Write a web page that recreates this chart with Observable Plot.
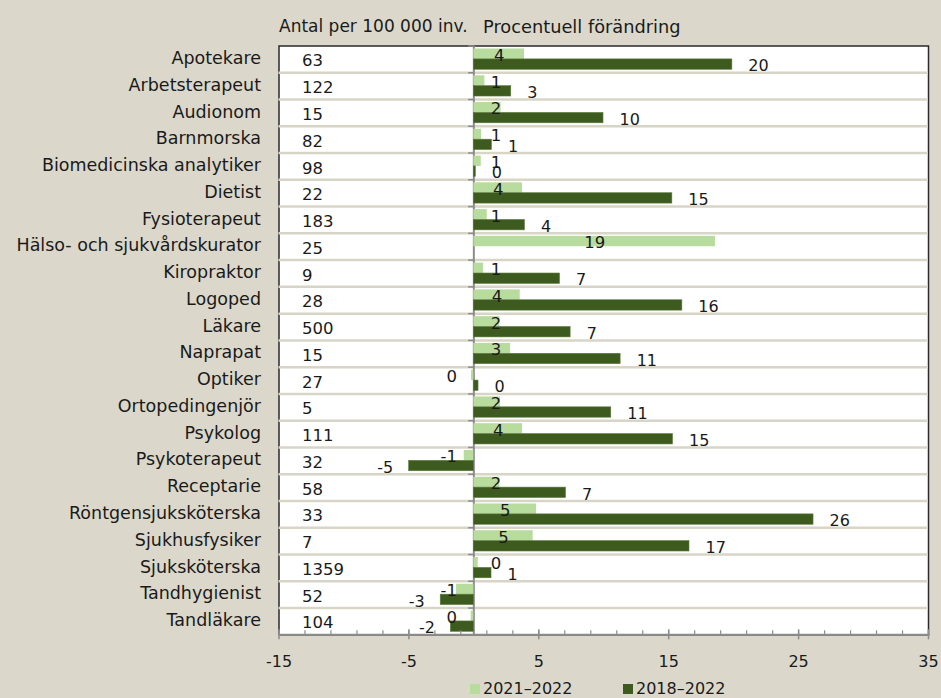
<!DOCTYPE html>
<html>
<head>
<meta charset="utf-8">
<script src="https://cdn.jsdelivr.net/npm/d3@7"></script>
<script src="https://cdn.jsdelivr.net/npm/@observablehq/plot@0.6"></script>
<style>
  html, body { margin: 0; padding: 0; }
  body { width: 941px; height: 698px; overflow: hidden; background: #dbd8cb; font-family: "DejaVu Sans", sans-serif; color: #1a1a1a; position: relative; }
  #chart { position: absolute; left: 0; top: 0; }
  .hdr { position: absolute; font-size: 17px; line-height: 17px; white-space: nowrap; top: 18px; }
  .leg { position: absolute; top: 680px; font-size: 16px; line-height: 18px; white-space: nowrap; display: flex; align-items: center; }
  .sw { display: inline-block; width: 10px; height: 10px; margin-right: 3px; }
</style>
</head>
<body>
<div class="hdr" style="left:279px">Antal per 100 000 inv.</div>
<div class="hdr" style="left:483px; font-size:17.8px">Procentuell förändring</div>
<div id="chart"></div>
<div class="leg" style="left:470px"><span class="sw" style="background:#b8dc9d"></span>2021–2022</div>
<div class="leg" style="left:623px"><span class="sw" style="background:#3d5a1f"></span>2018–2022</div>
<script>
const categories = ["Apotekare", "Arbetsterapeut", "Audionom", "Barnmorska", "Biomedicinska analytiker", "Dietist", "Fysioterapeut", "Hälso- och sjukvårdskurator", "Kiropraktor", "Logoped", "Läkare", "Naprapat", "Optiker", "Ortopedingenjör", "Psykolog", "Psykoterapeut", "Receptarie", "Röntgensjuksköterska", "Sjukhusfysiker", "Sjuksköterska", "Tandhygienist", "Tandläkare"];
const antalPer100000 = [63, 122, 15, 82, 98, 22, 183, 25, 9, 28, 500, 15, 27, 5, 111, 32, 58, 33, 7, 1359, 52, 104];
const change2021_2022 = [3.9, 0.85, 2.1, 0.59, 0.57, 3.75, 1.03, 18.6, 0.75, 3.57, 2.0, 2.83, -0.18, 2.05, 3.75, -0.74, 2.0, 4.83, 4.57, 0.34, -1.33, -0.2];
const change2018_2022 = [19.9, 2.88, 9.98, 1.39, 0.15, 15.28, 3.93, null, 6.63, 16.05, 7.45, 11.3, 0.36, 10.58, 15.33, -4.98, 7.09, 26.15, 16.6, 1.36, -2.55, -1.77];
const xTickValues = [-15, -5, 5, 15, 25, 35];
const xMinorTicks = d3.range(-15, 36, 2);

const lightGreen = "#b8dc9d";
const darkGreen = "#3d5a1f";
const gridColor = "#d8d5c6";
const axisGray = "#8c8c8c";

const rows = categories.map((c, i) => ({
  category: c,
  antal: antalPer100000[i],
  a: change2021_2022[i],
  b: change2018_2022[i]
}));
const fmt = v => String(Math.round(v) || 0);

const W = 941, H = 698, mTop = 45.5, mBottom = 63.7, mLeft = 278.5, mRight = 13;
const band = (H - mTop - mBottom) / categories.length;

const chart = Plot.plot({
  width: W,
  height: H,
  marginTop: mTop,
  marginBottom: mBottom,
  marginLeft: mLeft,
  marginRight: mRight,
  style: { background: "transparent", fontFamily: "DejaVu Sans", color: "#1a1a1a", overflow: "visible" },
  x: { domain: [-15, 35] },
  y: { domain: categories, paddingInner: 0, paddingOuter: 0, round: false },
  marks: [
    Plot.frame({ fill: "white", stroke: "#2a2a2a", strokeWidth: 1.5 }),
    Plot.ruleY(categories.slice(1), { y: d => d, dy: -band / 2, stroke: gridColor, strokeWidth: 2.5 }),
    Plot.ruleX([0], { stroke: axisGray, strokeWidth: 2 }),
    Plot.ruleY(categories, { y: d => d, x1: -0.4, x2: 0, dy: -band / 2, stroke: axisGray, strokeWidth: 1.5 }),
    Plot.barX(rows, { x: "a", y: "category", fill: lightGreen, insetTop: 3, insetBottom: band - 13.4 }),
    Plot.barX(rows.filter(d => d.b != null), { x: "b", y: "category", fill: darkGreen, stroke: "#5b7a3c", strokeWidth: 0.6, insetTop: 13.4, insetBottom: 3 }),
    Plot.text(rows, { y: "category", text: d => String(d.antal), frameAnchor: "left", textAnchor: "start", dx: 23, dy: 1.8, fontSize: 16.5 }),
    Plot.text(rows.filter(d => d.a >= 0), { x: d => Math.max(d.a / 2, 1.7), y: "category", text: d => fmt(d.a), dy: -3.7, fontSize: 16.5 }),
    Plot.text(rows.filter(d => d.a < 0), { x: d => Math.min(d.a / 2, -1.3), y: "category", text: d => fmt(d.a), textAnchor: "end", dy: -3.7, fontSize: 16.5 }),
    Plot.text(rows.filter(d => d.b != null && d.b >= 0), { x: "b", y: "category", text: d => fmt(d.b), textAnchor: "start", dx: 16, dy: 6.8, fontSize: 16 }),
    Plot.text(rows.filter(d => d.b != null && d.b < 0), { x: "b", y: "category", text: d => fmt(d.b), textAnchor: "end", dx: -16, dy: 6.8, fontSize: 16 }),
    Plot.frame({ anchor: "bottom", stroke: axisGray, strokeWidth: 2 }),
    Plot.axisX(xMinorTicks, { tickSize: 4, dy: -4, tickFormat: () => "", stroke: axisGray, strokeWidth: 1.2 }),
    Plot.axisX(xTickValues, { tickSize: 10, dy: -5, tickFormat: () => "", stroke: axisGray, strokeWidth: 1.5 }),
    Plot.axisX(xTickValues, { tickSize: 0, tickPadding: 21, tickFormat: d => String(d), fontSize: 16, label: null }),
    Plot.axisY({ tickSize: 0, tickPadding: 18, fontSize: 17.5, dy: -1, label: null })
  ]
});
document.getElementById("chart").appendChild(chart);
</script>
</body>
</html>
